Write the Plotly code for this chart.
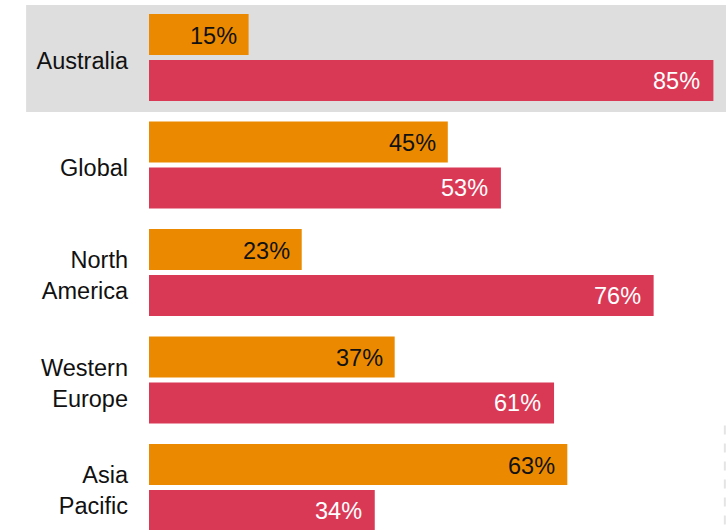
import plotly.graph_objects as go

regions = ["Australia", "Global", "North<br>America", "Western<br>Europe", "Asia<br>Pacific"]
share_a = [15, 45, 23, 37, 63]   # orange series (%)
share_b = [85, 53, 76, 61, 34]   # red series (%)
highlight = "Australia"

ORANGE = "#EB8A00"
RED = "#DA3956"
GREY = "#DEDEDE"
FONT = "Liberation Sans, Arial, Helvetica, sans-serif"
SIZE = 23.5

fig = go.Figure()
fig.add_trace(go.Bar(y=regions, x=share_a, orientation="h", marker_color=ORANGE,
                     marker_line_width=0, hoverinfo="skip", name="a"))
fig.add_trace(go.Bar(y=regions, x=share_b, orientation="h", marker_color=RED,
                     marker_line_width=0, hoverinfo="skip", name="b"))

# value labels at the inner end of each bar
annotations = []
for r, a, b in zip(regions, share_a, share_b):
    annotations.append(dict(x=a, y=r, xref="x", yref="y", text=f"{a}%", showarrow=False,
                            xanchor="right", xshift=-10, yshift=22,
                            font=dict(family=FONT, size=SIZE, color="#111111")))
    annotations.append(dict(x=b, y=r, xref="x", yref="y", text=f"{b}%", showarrow=False,
                            xanchor="right", xshift=-11, yshift=-23,
                            font=dict(family=FONT, size=SIZE, color="white")))

hi = regions.index(highlight)
shapes = [
    # highlight band behind the selected region
    dict(type="rect", xref="paper", yref="y", x0=-0.213, x1=1.05,
         y0=hi - 0.488, y1=hi + 0.507, fillcolor=GREY, line_width=0, layer="below"),
    # faint dashed edge line at the lower right
    dict(type="line", xref="paper", yref="paper", x0=0.998, x1=0.998, y0=0.197, y1=0,
         line=dict(color="#E4E4E4", width=2, dash="dash")),
]

fig.update_layout(
    width=726, height=530,
    margin=dict(l=149, r=0, t=0, b=0),
    paper_bgcolor="white", plot_bgcolor="rgba(0,0,0,0)",
    barmode="group", bargap=0.144, bargroupgap=0.109,
    showlegend=False,
    annotations=annotations, shapes=shapes,
    font=dict(family=FONT, size=SIZE, color="#111111"),
)
fig.update_xaxes(range=[0, 577 / 6.64], visible=False, fixedrange=True)
fig.update_yaxes(type="category", categoryorder="array", categoryarray=regions,
                 range=[4.395, -0.535], showgrid=False, zeroline=False, showline=False,
                 ticks="", ticklabelstandoff=20, ticklabelshift=-3,
                 tickfont=dict(family=FONT, size=SIZE, color="#111111"), fixedrange=True)

fig.write_html("out.html", config={"displayModeBar": False})
